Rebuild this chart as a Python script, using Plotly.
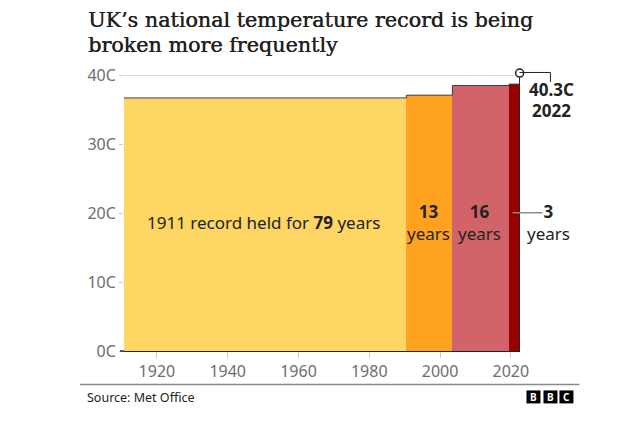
import plotly.graph_objects as go

# Record holders: when set (mid-year), when broken, temperature
start_years = [1910.7, 1990.5, 2003.5, 2019.5]
end_years = [1990.5, 2003.5, 2019.5, 2022.5]
record_temps = [36.7, 37.1, 38.5, 38.7]
bar_colors = ["#fdd663", "#ffa220", "#d26469", "#990000"]
latest_year = [2022.5]
latest_temp = [40.3]
y_ticks = [0, 10, 20, 30, 40]
y_labels = ["0C", "10C", "20C", "30C", "40C"]
x_ticks = [1920, 1940, 1960, 1980, 2000, 2020]

W, H = 635, 421
LEFT, RIGHT, TOP, BOTTOM = 124, 520.5, 60, 351.5
SANS = "Noto Sans"
SERIF = "DejaVu Serif"
DARK = "#222222"
GREY = "#6e6e6e"


def px(x):
    return (x - LEFT) / (RIGHT - LEFT)


def py(y):
    return (BOTTOM - y) / (BOTTOM - TOP)


def label(x, y, text, size=17, color=DARK, anchor="center", font=SANS, shadow=None):
    f = dict(family=font, size=size, color=color)
    if shadow:
        f["shadow"] = shadow
    return dict(x=px(x), y=py(y), xref="paper", yref="paper", text=text, showarrow=False,
                xanchor=anchor, yanchor="middle", font=f)


def line(x0, y0, x1, y1, color=DARK, width=1):
    return dict(type="line", xref="paper", yref="paper", x0=px(x0), y0=py(y0), x1=px(x1), y1=py(y1),
                line=dict(color=color, width=width))


fig = go.Figure()

widths = [e - s for s, e in zip(start_years, end_years)]
fig.add_trace(go.Bar(x=start_years, y=record_temps, width=widths, offset=0,
                     marker=dict(color=bar_colors, line=dict(width=0)), hoverinfo="skip"))

# Dark outline along the top of the steps, up to the 2022 record
step_x = start_years + end_years[-1:] + latest_year
step_y = record_temps + record_temps[-1:] + latest_temp
fig.add_trace(go.Scatter(x=step_x, y=step_y, mode="lines", line=dict(color="#404040", width=1, shape="hv"),
                         hoverinfo="skip"))
fig.add_trace(go.Scatter(x=latest_year + latest_year, y=[0] + latest_temp, mode="lines",
                         line=dict(color=DARK, width=1), hoverinfo="skip"))
fig.add_trace(go.Scatter(x=latest_year, y=latest_temp, mode="markers", cliponaxis=False,
                         marker=dict(color="white", size=8, line=dict(color=DARK, width=1.5)), hoverinfo="skip"))

THICK = "0.4px 0 0 #222222"
annotations = [
    label(85.5, 20, "UK’s national temperature record is being", size=20.7, anchor="left", font=SERIF, shadow=THICK),
    label(85.5, 45, "broken more frequently", size=20.7, anchor="left", font=SERIF, shadow=THICK),
    label(264, 223, "1911 record held for <b>79</b> years"),
    label(429, 223, "<b>13</b><br>years"),
    label(480, 223, "<b>16</b><br>years"),
    label(549.5, 223, "<b>3</b><br>years"),
    label(552, 90, "<b>40.3C</b>"),
    label(552, 111, "<b>2022</b>"),
    label(84.5, 398, "Source: Met Office", size=12.5, anchor="left"),
]

shapes = [
    line(80, 385, 580, 385, color="#8a8a8a", width=1.5),
    line(520, 72.5, 551, 72.5),
    line(551, 72.5, 551, 82),
    line(513, 213, 543, 213, color="#8a8a8a", width=1.5),
    line(120, 351.5, 124, 351.5, width=1.5),
]
# BBC blocks
for left, letter in zip([527, 544, 560], ["B", "B", "C"]):
    shapes.append(dict(type="rect", xref="paper", yref="paper", x0=px(left), x1=px(left + 14),
                       y0=py(391), y1=py(404), fillcolor="black", line=dict(width=0)))
    annotations.append(label(left + 7, 397.5, "<b>" + letter + "</b>", size=10, color="white"))

fig.update_layout(
    width=W, height=H,
    margin=dict(l=LEFT, r=W - RIGHT, t=TOP, b=H - BOTTOM, pad=0),
    autosize=False,
    showlegend=False,
    paper_bgcolor="white",
    plot_bgcolor="white",
    bargap=0,
    annotations=annotations,
    shapes=shapes,
    xaxis=dict(range=[1910.7, 2022.6], tickvals=x_ticks,
               ticks="outside", ticklen=6, tickcolor="#cccccc", showgrid=False, zeroline=False,
               showline=False, tickfont=dict(family=SANS, size=16, color=GREY)),
    yaxis=dict(range=[0, 42.2], tickvals=y_ticks, ticktext=y_labels,
               ticks="outside", ticklen=4, tickcolor="#cccccc", gridcolor="#dddddd",
               zeroline=True, zerolinecolor="#222222", zerolinewidth=1.5,
               tickfont=dict(family=SANS, size=16, color=GREY)),
)

fig.write_html("out.html", config=dict(displayModeBar=False),
               post_script="document.body.style.margin = '0';")
